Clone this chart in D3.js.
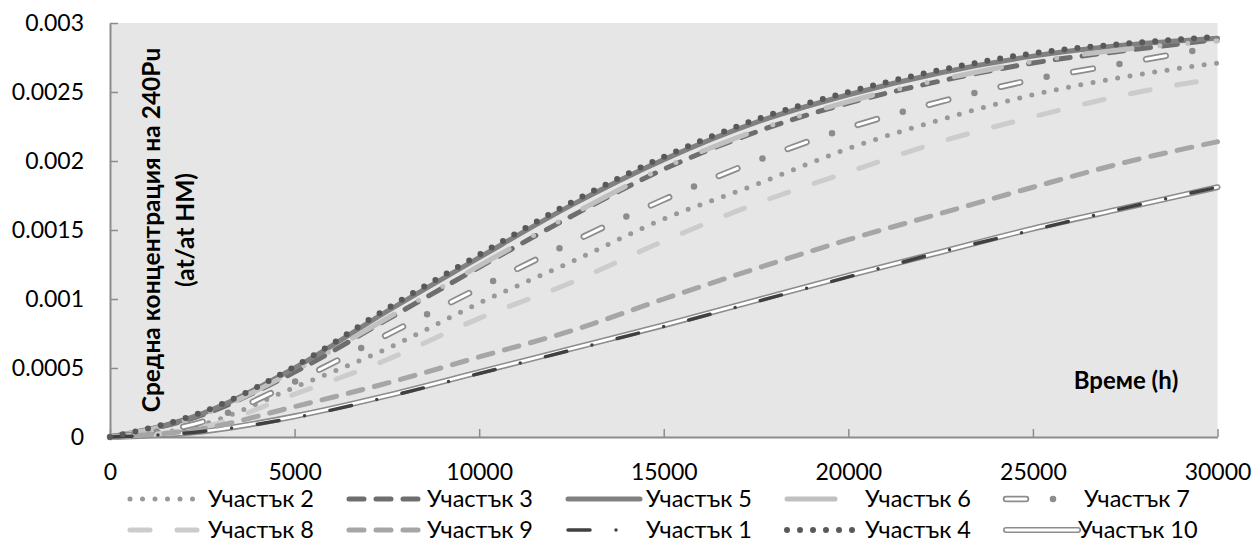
<!DOCTYPE html>
<html>
<head>
<meta charset="utf-8">
<script src="https://cdn.jsdelivr.net/npm/d3@7"></script>
<style>
  body { margin: 0; background: #fff; }
  svg text { font-family: Lato, "Open Sans", sans-serif; fill: #000; }
</style>
</head>
<body>
<svg id="chart"></svg>
<script>
// time points (h) and values for each section
const hours = [0, 2500, 5000, 7500, 10000, 12500, 15000, 17500, 20000, 22500, 25000, 27500, 30000];

const uch1  = [0, 0.00004, 0.00014, 0.00029, 0.00046, 0.00063, 0.00080, 0.00098, 0.00116, 0.00134, 0.00150, 0.00166, 0.00181];
const uch2  = [0, 0.00009, 0.00036, 0.00064, 0.00097, 0.00127, 0.00158, 0.00183, 0.00209, 0.00230, 0.00248, 0.00261, 0.00271];
const uch3  = [0, 0.00016, 0.00047, 0.00085, 0.00123, 0.00160, 0.00194, 0.00221, 0.00242, 0.00258, 0.00271, 0.00280, 0.00288];
const uch4  = [0, 0.00018, 0.00051, 0.00093, 0.00132, 0.00170, 0.00203, 0.00230, 0.00250, 0.00266, 0.00278, 0.00285, 0.00290];
const uch5  = [0, 0.00017, 0.00050, 0.00091, 0.00130, 0.00168, 0.00201, 0.00228, 0.00248, 0.00264, 0.00276, 0.00284, 0.00289];
const uch6  = [0, 0.00016, 0.00048, 0.00086, 0.00124, 0.00161, 0.00195, 0.00222, 0.00243, 0.00259, 0.00272, 0.00281, 0.00287];
const uch7  = [0, 0.00011, 0.00040, 0.00074, 0.00108, 0.00141, 0.00172, 0.00200, 0.00224, 0.00243, 0.00259, 0.00271, 0.00283];
const uch8  = [0, 0.00007, 0.00031, 0.00056, 0.00086, 0.00112, 0.00142, 0.00169, 0.00192, 0.00214, 0.00232, 0.00248, 0.00260];
const uch9  = [0, 0.00006, 0.00022, 0.00039, 0.00058, 0.00077, 0.00100, 0.00122, 0.00143, 0.00162, 0.00181, 0.00199, 0.00214];
const uch10 = [0, 0.00004, 0.00015, 0.00030, 0.00047, 0.00064, 0.00081, 0.00099, 0.00117, 0.00134, 0.00151, 0.00166, 0.00181];

// legend order (as in the original)
const legendNames = ["Участък 2", "Участък 3", "Участък 5", "Участък 6", "Участък 7",
                     "Участък 8", "Участък 9", "Участък 1", "Участък 4", "Участък 10"];
const legendData = [uch2, uch3, uch5, uch6, uch7, uch8, uch9, uch1, uch4, uch10];

const xTicks = [0, 5000, 10000, 15000, 20000, 25000, 30000];
const yTicks = [0, 0.0005, 0.001, 0.0015, 0.002, 0.0025, 0.003];

const yTitle1 = "Средна концентрация на 240Pu";
const yTitle2 = "(at/at HM)";
const xTitle = "Време (h)";

// chart size
const width = 1254;
const height = 541;
const margin = { top: 23, right: 36.5, bottom: 104, left: 110 };

// line look per section: stroke layers drawn one over the other
const styles = {
  "Участък 1":  [{ c: "#404040", w: 3.5, d: "22 26 0 26" }],
  "Участък 2":  [{ c: "#999999", w: 5,   d: "0 12.5" }],
  "Участък 3":  [{ c: "#6e6e6e", w: 5,   d: "15 12" }],
  "Участък 4":  [{ c: "#595959", w: 6,   d: "0 13" }],
  "Участък 5":  [{ c: "#808080", w: 5,   d: null }],
  "Участък 6":  [{ c: "#c0c0c0", w: 5,   d: "48 28 0 28 0 28" }],
  "Участък 7":  [{ c: "#8c8c8c", w: 6.5, d: "20 27 0 27" }, { c: "#ffffff", w: 3, d: "20 54" }],
  "Участък 8":  [{ c: "#cccccc", w: 5,   d: "20 27" }],
  "Участък 9":  [{ c: "#a6a6a6", w: 5,   d: "15 12" }],
  "Участък 10": [{ c: "#8c8c8c", w: 6,   d: null }, { c: "#ffffff", w: 2.8, d: null }]
};

const drawChart = () => {
  const xScale = d3.scaleLinear()
    .domain([0, 30000])
    .range([margin.left, width - margin.right]);
  const yScale = d3.scaleLinear()
    .domain([0, 0.003])
    .range([height - margin.bottom, margin.top]);

  const svg = d3.select("#chart")
    .attr("width", width)
    .attr("height", height);

  // plot background
  svg.append("rect")
    .attr("x", xScale(0))
    .attr("y", yScale(0.003))
    .attr("width", xScale(30000) - xScale(0))
    .attr("height", yScale(0) - yScale(0.003))
    .attr("fill", "#e6e6e6");

  // axes, ticks pointing inside
  const xAxis = d3.axisBottom(xScale)
    .tickValues(xTicks)
    .tickSizeInner(-8)
    .tickSizeOuter(0)
    .tickPadding(27)
    .tickFormat(d3.format("d"));
  const yAxis = d3.axisLeft(yScale)
    .tickValues(yTicks)
    .tickSizeInner(-8)
    .tickSizeOuter(0)
    .tickPadding(26)
    .tickFormat(d => String(d));

  const gx = svg.append("g")
    .attr("transform", "translate(0," + yScale(0) + ")")
    .call(xAxis);
  const gy = svg.append("g")
    .attr("transform", "translate(" + xScale(0) + ",0)")
    .call(yAxis);

  [gx, gy].forEach(g => {
    g.select(".domain").attr("stroke", "#8c8c8c").attr("stroke-width", 2);
    g.selectAll(".tick line").attr("stroke", "#8c8c8c").attr("stroke-width", 1.5);
    g.selectAll(".tick text").attr("font-size", 23).attr("font-family", "Lato, sans-serif");
  });

  // lines
  const line = d3.line()
    .x((d, i) => xScale(hours[i]))
    .y(d => yScale(d))
    .curve(d3.curveMonotoneX);

  const addLayers = (g, pathD, name) => {
    styles[name].forEach(s => {
      g.append("path")
        .attr("d", pathD)
        .attr("fill", "none")
        .attr("stroke", s.c)
        .attr("stroke-width", s.w)
        .attr("stroke-linecap", "round")
        .attr("stroke-linejoin", "round")
        .attr("stroke-dasharray", s.d);
    });
  };

  // section 10 goes underneath, the rest follow legend order
  const order = [9, 0, 1, 2, 3, 4, 5, 6, 7, 8];
  const plot = svg.append("g");
  order.forEach(i => {
    addLayers(plot, line(legendData[i]), legendNames[i]);
  });

  // y axis title (two lines, inside the plot)
  const midY = (yScale(0) + yScale(0.003)) / 2;
  svg.append("text")
    .attr("transform", "translate(151," + midY + ") rotate(-90)")
    .attr("text-anchor", "middle")
    .attr("dy", "0.35em")
    .attr("font-size", 24.5)
    .attr("font-weight", "bold")
    .text(yTitle1);
  svg.append("text")
    .attr("transform", "translate(185," + midY + ") rotate(-90)")
    .attr("text-anchor", "middle")
    .attr("dy", "0.35em")
    .attr("font-size", 24.5)
    .attr("font-weight", "bold")
    .text(yTitle2);

  // x axis title
  svg.append("text")
    .attr("x", 1126)
    .attr("y", 389)
    .attr("text-anchor", "middle")
    .attr("font-size", 24)
    .attr("font-weight", "bold")
    .text(xTitle);

  // legend: 2 rows x 5 columns
  const legend = svg.append("g");
  legendNames.forEach((name, i) => {
    const col = i % 5;
    const row = Math.floor(i / 5);
    const x0 = 130 + col * 219;
    const ly = 499 + row * 31;
    addLayers(legend, "M" + x0 + "," + ly + "H" + (x0 + 72), name);
    legend.append("text")
      .attr("x", name === "Участък 10" ? x0 + 72 : x0 + 78)
      .attr("y", ly + 7.5)
      .attr("font-size", 23.5)
      .text(name);
  });
};

drawChart();
</script>
</body>
</html>
